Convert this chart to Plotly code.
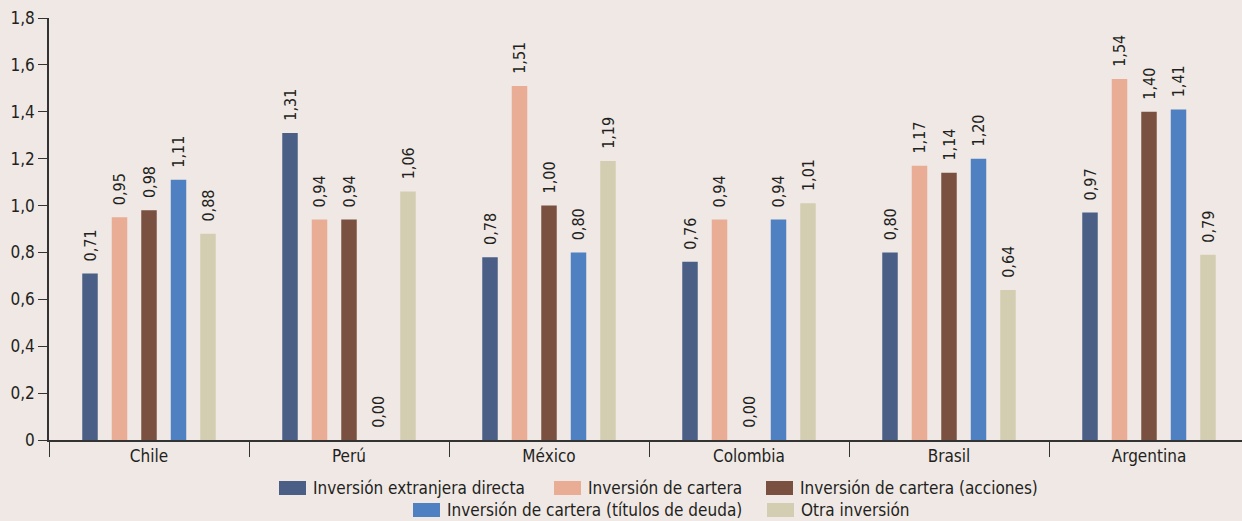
import plotly.graph_objects as go

# Countries (categories on the x axis)
countries = ["Chile", "Perú", "México", "Colombia", "Brasil", "Argentina"]

# Series names
series_names = [
    "Inversión extranjera directa",
    "Inversión de cartera",
    "Inversión de cartera (acciones)",
    "Inversión de cartera (títulos de deuda)",
    "Otra inversión",
]

# Values per series, one entry per country
ied = [0.71, 1.31, 0.78, 0.76, 0.80, 0.97]
cartera = [0.95, 0.94, 1.51, 0.94, 1.17, 1.54]
acciones = [0.98, 0.94, 1.00, 0.00, 1.14, 1.40]
deuda = [1.11, 0.00, 0.80, 0.94, 1.20, 1.41]
otra = [0.88, 1.06, 1.19, 1.01, 0.64, 0.79]

# Y axis ticks
y_tickvals = [0, 0.2, 0.4, 0.6, 0.8, 1.0, 1.2, 1.4, 1.6, 1.8]
y_ticktext = ["0", "0,2", "0,4", "0,6", "0,8", "1,0", "1,2", "1,4", "1,6", "1,8"]

series_values = [ied, cartera, acciones, deuda, otra]
colors = ["#4a5e86", "#e9ac94", "#7a5140", "#4f80c1", "#d3ceb1"]

BG = "#efe8e5"
INK = "#231f20"
FONT = "DejaVu Sans Condensed, Liberation Sans Narrow, Roboto Condensed, sans-serif"

W, H = 1242, 521
ML, MR, MT, MB = 49, 0, 18, 81
PW = W - ML - MR
PH = H - MT - MB


def fmt(v):
    return "\u00a0\u00a0" + f"{v:.2f}".replace(".", ",")


fig = go.Figure()
for name, vals, col in zip(series_names, series_values, colors):
    fig.add_trace(
        go.Bar(
            x=countries,
            y=vals,
            name=name,
            marker=dict(color=col, line=dict(width=0)),
            text=[fmt(v) for v in vals],
            textposition="outside",
            textangle=-90,
            textfont=dict(family=FONT, size=16, color=INK),
            constraintext="none",
            cliponaxis=False,
            hoverinfo="skip",
        )
    )


# Legend drawn as swatches + labels below the plot (pixel helpers)
def px_x(x):
    return (x - ML) / PW


def px_y(y):
    return (H - MB - y) / PH


legend_items = [
    (0, 279, 488),
    (1, 554, 488),
    (2, 766, 488),
    (3, 413, 510),
    (4, 767, 510),
]
shapes = []
annotations = []
for idx, lx, ly in legend_items:
    shapes.append(
        dict(
            type="rect", xref="paper", yref="paper",
            x0=px_x(lx), x1=px_x(lx + 27), y0=px_y(ly - 7), y1=px_y(ly + 7),
            fillcolor=colors[idx], line=dict(width=0), layer="above",
        )
    )
    annotations.append(
        dict(
            text=series_names[idx], xref="paper", yref="paper",
            x=px_x(lx + 32), y=px_y(ly), xanchor="left", yanchor="middle",
            showarrow=False, font=dict(family=FONT, size=17, color=INK),
        )
    )

fig.update_layout(
    width=W,
    height=H,
    margin=dict(l=ML, r=MR, t=MT, b=MB),
    paper_bgcolor=BG,
    plot_bgcolor=BG,
    barmode="group",
    bargap=0.2625,
    bargroupgap=0.475,
    showlegend=False,
    separators=",.",
    font=dict(family=FONT, size=17, color=INK),
    shapes=shapes,
    annotations=annotations,
    xaxis=dict(
        type="category",
        categoryorder="array",
        categoryarray=countries,
        range=[-0.5, -0.5 + PW / 200],
        showline=True,
        linecolor="#333333",
        linewidth=1.5,
        ticks="outside",
        tickson="boundaries",
        ticklen=15,
        tickwidth=1.3,
        tickcolor="#333333",
        ticklabelstandoff=0,
        tickfont=dict(family=FONT, size=17, color=INK),
        showgrid=False,
        zeroline=False,
    ),
    yaxis=dict(
        range=[0, 1.8],
        tickvals=y_tickvals,
        ticktext=y_ticktext,
        showline=True,
        linecolor="#333333",
        linewidth=1.5,
        ticks="outside",
        ticklen=9,
        tickwidth=1.3,
        tickcolor="#333333",
        tickfont=dict(family=FONT, size=17, color=INK),
        showgrid=False,
        zeroline=False,
    ),
)

fig.write_html("out.html")
